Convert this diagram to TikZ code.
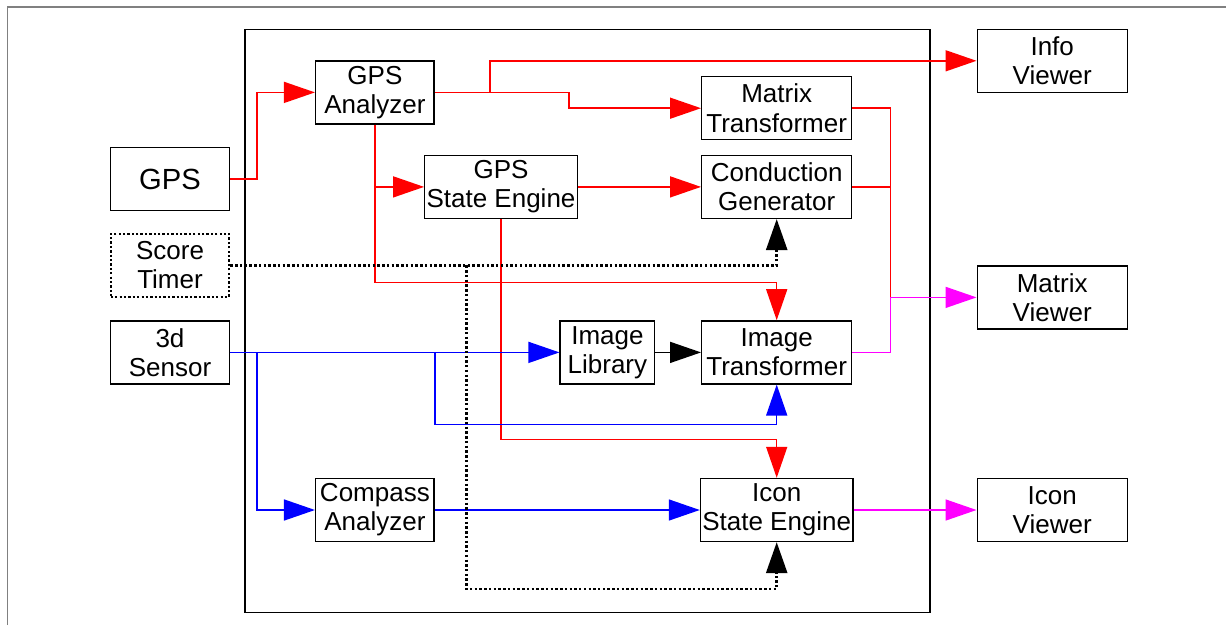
\documentclass[tikz,border=0pt]{standalone}
\usepackage{fontspec}
\setmainfont{Liberation Sans}
\usetikzlibrary{arrows.meta}
\definecolor{magline}{RGB}{255,0,255}

\begin{document}
\begin{tikzpicture}[x=0.02cm, y=-0.02cm,
    font=\fontsize{14.8}{16.6}\selectfont,
    block/.style={draw, line width=0.8pt, align=center, inner sep=1pt, minimum height=1.26cm}, % Style for boxes
    short/.style={block, minimum width=2.37cm},
    wide/.style={block, minimum width=3cm},
    dotbox/.style={short, line width=1.3pt, dash pattern=on 1.3pt off 1.2pt}, % Style for the timer box
    wire/.style={line width=0.85pt},
    tip/.style={-{Triangle[length=0.62cm, width=0.42cm]}},
    dotwire/.style={line width=1.5pt, dash pattern=on 1.4pt off 1.3pt}
]
\useasboundingbox (0,0) rectangle (1226,625);

% Frame and the big box
\draw[gray, line width=1pt] (7.5,625) -- (7.5,7) -- (1226,7);
\draw[line width=0.9pt] (245,29.3) rectangle (930,612.7);

% Inputs on the left
\node[short, font=\fontsize{16.6}{19}\selectfont] (gps) at (170, 179) {GPS};
\node[dotbox] (timer) at (170, 265.4) {Score\\Timer};
\node[short] (sensor) at (170, 352.4) {3d\\Sensor};

% Blocks inside
\node[short] (gpsan) at (374.9, 92.4) {GPS\\Analyzer};
\node[wide] (gpsse) at (501, 186.9) {GPS\\State Engine};
\node[short] (compass) at (374.9, 510) {Compass\\Analyzer};
\node[block, minimum width=1.89cm] (imglib) at (607.4, 352.4) {Image\\Library};
\node[wide] (matrix) at (776.7, 108.2) {Matrix\\Transformer};
\node[wide] (cond) at (776.7, 186.9) {Conduction\\Generator};
\node[wide] (imgtr) at (776.7, 352.4) {Image\\Transformer};
\node[wide] (icon) at (776.7, 510) {Icon\\State Engine};

% Viewers on the right
\node[wide] (info) at (1052.2, 60.8) {Info\\Viewer};
\node[wide] (mview) at (1052.2, 297.4) {Matrix\\Viewer};
\node[wide] (iview) at (1052.2, 510) {Icon\\Viewer};

\coordinate (mjoin) at (890.6, 297.4);
\coordinate (tsplit) at (466.2, 265.4);

% GPS signals (red)
\draw[wire, red, tip] (gps.east) -- ++(27.3,0) |- (gpsan.west);
\draw[wire, red, tip] (gpsan.east) -- ++(55,0) |- (info.west);
\draw[wire, red, tip] (gpsan.east) -- ++(134,0) |- (matrix.west);
\draw[wire, red, tip] (gpsan.south) |- (gpsse.west);
\draw[wire, red, tip] (gpsan.south) -- ++(0,157.7) -| (imgtr.north);
\draw[wire, red, tip] (gpsse.east) -- (cond.west);
\draw[wire, red, tip] (gpsse.south) -- ++(0,220.3) -| (icon.north);
\draw[wire, red] (matrix.east) -| (mjoin);
\draw[wire, red] (cond.east) -- (cond.east -| mjoin);

% Outputs to the viewers (magenta)
\draw[wire, magline, tip] (mjoin) -- (mview.west);
\draw[wire, magline] (imgtr.east) -| (mjoin);
\draw[wire, magline, tip] (icon.east) -- (iview.west);

% Sensor signals (blue)
\draw[wire, blue, tip] (sensor.east) -- (imglib.west);
\draw[wire, blue, tip] (sensor.east) -- ++(27.3,0) |- (compass.west);
\draw[wire, blue, tip] (sensor.east) -- ++(205,0) -- ++(0,72) -| (imgtr.south);
\draw[wire, blue, tip] (compass.east) -- (icon.west);

% Library and timer (black)
\draw[wire, tip] (imglib.east) -- (imgtr.west);
\draw[dotwire, tip] (timer.east) -| (cond.south);
\draw[dotwire, tip] (tsplit) -- ++(0,323.6) -| (icon.south);

\end{tikzpicture}
\end{document}
